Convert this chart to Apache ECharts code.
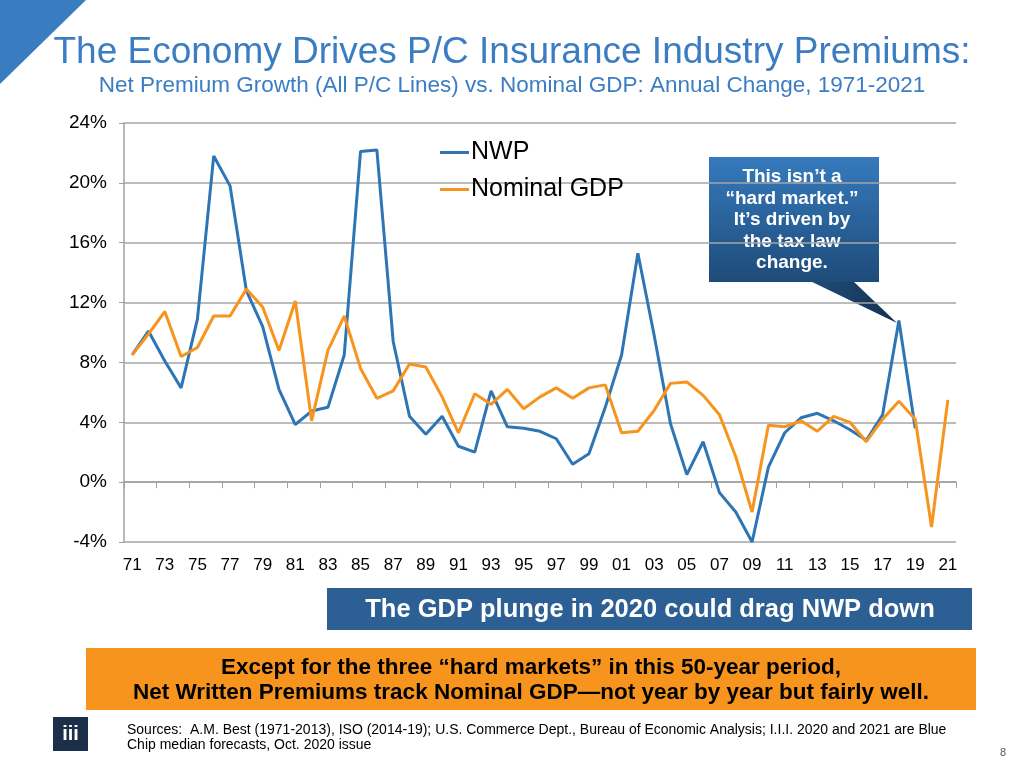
<!DOCTYPE html>
<html><head><meta charset="utf-8">
<script src="https://cdn.jsdelivr.net/npm/echarts@6/dist/echarts.min.js"></script>
<style>html,body{margin:0;padding:0;background:#fff}#c{width:1024px;height:768px}</style>
</head><body><div id="c"></div>
<script>
const years = ['71','72','73','74','75','76','77','78','79','80','81','82','83','84','85','86','87','88','89','90',
  '91','92','93','94','95','96','97','98','99','00','01','02','03','04','05','06','07','08','09','10',
  '11','12','13','14','15','16','17','18','19','20','21'];
const nwp = [8.5,10.1,8.1,6.3,10.9,21.8,19.8,12.8,10.4,6.2,3.85,4.75,5.0,8.5,22.1,22.2,9.4,4.4,3.2,4.4,
  2.4,2.0,6.1,3.7,3.6,3.4,2.9,1.2,1.9,5.0,8.5,15.3,9.8,3.9,0.5,2.7,-0.7,-2.0,-4.0,1.0,
  3.3,4.3,4.6,4.1,3.5,2.8,4.5,10.8,3.6,null,null];
const gdp = [8.5,9.9,11.4,8.4,9.0,11.1,11.1,12.9,11.7,8.8,12.1,4.1,8.8,11.1,7.6,5.6,6.1,7.9,7.7,5.7,
  3.3,5.9,5.2,6.2,4.9,5.7,6.3,5.6,6.3,6.5,3.3,3.4,4.8,6.6,6.7,5.8,4.5,1.7,-2.0,3.8,
  3.7,4.1,3.4,4.4,4.0,2.7,4.2,5.4,4.2,-3.0,5.5];
const yMin = -4, yMax = 24, yStep = 4;
const seriesNames = ['NWP', 'Nominal GDP'];
const calloutLines = ['This isn\u2019t a', '\u201chard market.\u201d', 'It\u2019s driven by', 'the tax law', 'change.'];

const FONT = "'Liberation Sans', Arial, sans-serif";
const chart = echarts.init(document.getElementById('c'), null, {renderer: 'canvas'});
const grid = {left: 124, right: 68, top: 123, bottom: 226};
chart.setOption({
  backgroundColor: '#fff',
  animation: false,
  textStyle: {fontFamily: FONT},
  title: [
    {text: 'The Economy Drives P/C Insurance Industry Premiums:', left: 'center', top: 29,
     textStyle: {fontSize: 37, fontWeight: 'normal', color: '#3b7dc2', fontFamily: FONT}},
    {text: 'Net Premium Growth (All P/C Lines) vs. Nominal GDP: Annual Change, 1971-2021', left: 'center', top: 69,
     textStyle: {fontSize: 22.5, fontWeight: 'normal', color: '#3b7dc2', fontFamily: FONT}}
  ],
  legend: {
    orient: 'vertical', left: 435, top: 135, itemWidth: 29, itemHeight: 3, itemGap: 12,
    icon: 'rect', data: seriesNames,
    textStyle: {fontSize: 25, color: '#000', fontFamily: FONT, padding: [0,0,0,-3]}
  },
  grid: grid,
  xAxis: [
    {type: 'category', data: years, boundaryGap: true, position: 'bottom',
     axisLine: {onZero: true, lineStyle: {color: '#a0a0a0', width: 1.5}},
     axisTick: {show: true, length: 6, lineStyle: {color: '#a0a0a0', width: 1}},
     axisLabel: {show: false}, splitLine: {show: false}},
    {type: 'category', data: years, boundaryGap: true, position: 'bottom',
     axisLine: {show: false, onZero: false}, axisTick: {show: false},
     axisLabel: {show: true, interval: 1, fontSize: 17, color: '#000', margin: 15, fontFamily: FONT},
     splitLine: {show: false}}
  ],
  yAxis: {
    type: 'value', min: yMin, max: yMax, interval: yStep,
    axisLine: {show: true, lineStyle: {color: '#a0a0a0', width: 1.5}},
    axisTick: {show: true, length: 5, lineStyle: {color: '#a0a0a0'}},
    axisLabel: {formatter: v => v + '%', fontSize: 19, color: '#000', margin: 17, fontFamily: FONT},
    splitLine: {show: true, lineStyle: {color: '#a6a6a6', width: 1.5}}
  },
  series: [
    {name: seriesNames[0], type: 'line', data: nwp, xAxisIndex: 0, showSymbol: false, symbol: 'none',
     lineStyle: {color: '#2e75b6', width: 3}, itemStyle: {color: '#2e75b6'}, connectNulls: false},
    {name: seriesNames[1], type: 'line', data: gdp, xAxisIndex: 0, showSymbol: false, symbol: 'none',
     lineStyle: {color: '#f7941d', width: 3}, itemStyle: {color: '#f7941d'}}
  ],
  graphic: [
    {type: 'polygon', shape: {points: [[0,0],[86,0],[0,84]]}, style: {fill: '#3a7cc0'}},
    {type: 'polygon', shape: {points: [[808,280],[852,280],[897,323]]},
     style: {fill: new echarts.graphic.LinearGradient(0,0,1,1,[{offset:0,color:'#1f4d7c'},{offset:1,color:'#12304f'}])}},
    {type: 'rect', shape: {x: 709, y: 157, width: 170, height: 125},
     style: {fill: new echarts.graphic.LinearGradient(0,0,0,1,[{offset:0,color:'#357abd'},{offset:1,color:'#1e4b79'}])}},
    {type: 'text', x: 792, y: 166, style: {text: calloutLines.join('\n'), fill: '#fff', font: 'bold 19px ' + FONT,
      align: 'center', verticalAlign: 'top', lineHeight: 21.6}},
    {type: 'rect', shape: {x: 327, y: 588, width: 645, height: 42}, style: {fill: '#2c5f93'}},
    {type: 'text', x: 650, y: 610, style: {text: 'The GDP plunge in 2020 could drag NWP down', fill: '#fff',
      font: 'bold 25.5px ' + FONT, align: 'center', verticalAlign: 'middle'}},
    {type: 'rect', shape: {x: 86, y: 648, width: 890, height: 62}, style: {fill: '#f7941d'}},
    {type: 'text', x: 531, y: 680, style: {text: 'Except for the three \u201chard markets\u201d in this 50-year period,\nNet Written Premiums track Nominal GDP\u2014not year by year but fairly well.',
      fill: '#000', font: 'bold 22.5px ' + FONT, align: 'center', verticalAlign: 'middle', lineHeight: 25}},
    {type: 'rect', shape: {x: 53, y: 717, width: 35, height: 34}, style: {fill: '#1b2f4a'}},
    {type: 'text', x: 70.5, y: 734, style: {text: 'iii', fill: '#fff', font: 'bold 20px ' + FONT, align: 'center', verticalAlign: 'middle'}},
    {type: 'text', x: 127, y: 722.5, style: {text: 'Sources:  A.M. Best (1971-2013), ISO (2014-19); U.S. Commerce Dept., Bureau of Economic Analysis; I.I.I. 2020 and 2021 are Blue\nChip median forecasts, Oct. 2020 issue',
      fill: '#000', font: '14px ' + FONT, align: 'left', verticalAlign: 'top', lineHeight: 15}},
    {type: 'text', x: 1003, y: 753, style: {text: '8', fill: '#555', font: '11px ' + FONT, align: 'center', verticalAlign: 'middle'}}
  ]
});
</script></body></html>
